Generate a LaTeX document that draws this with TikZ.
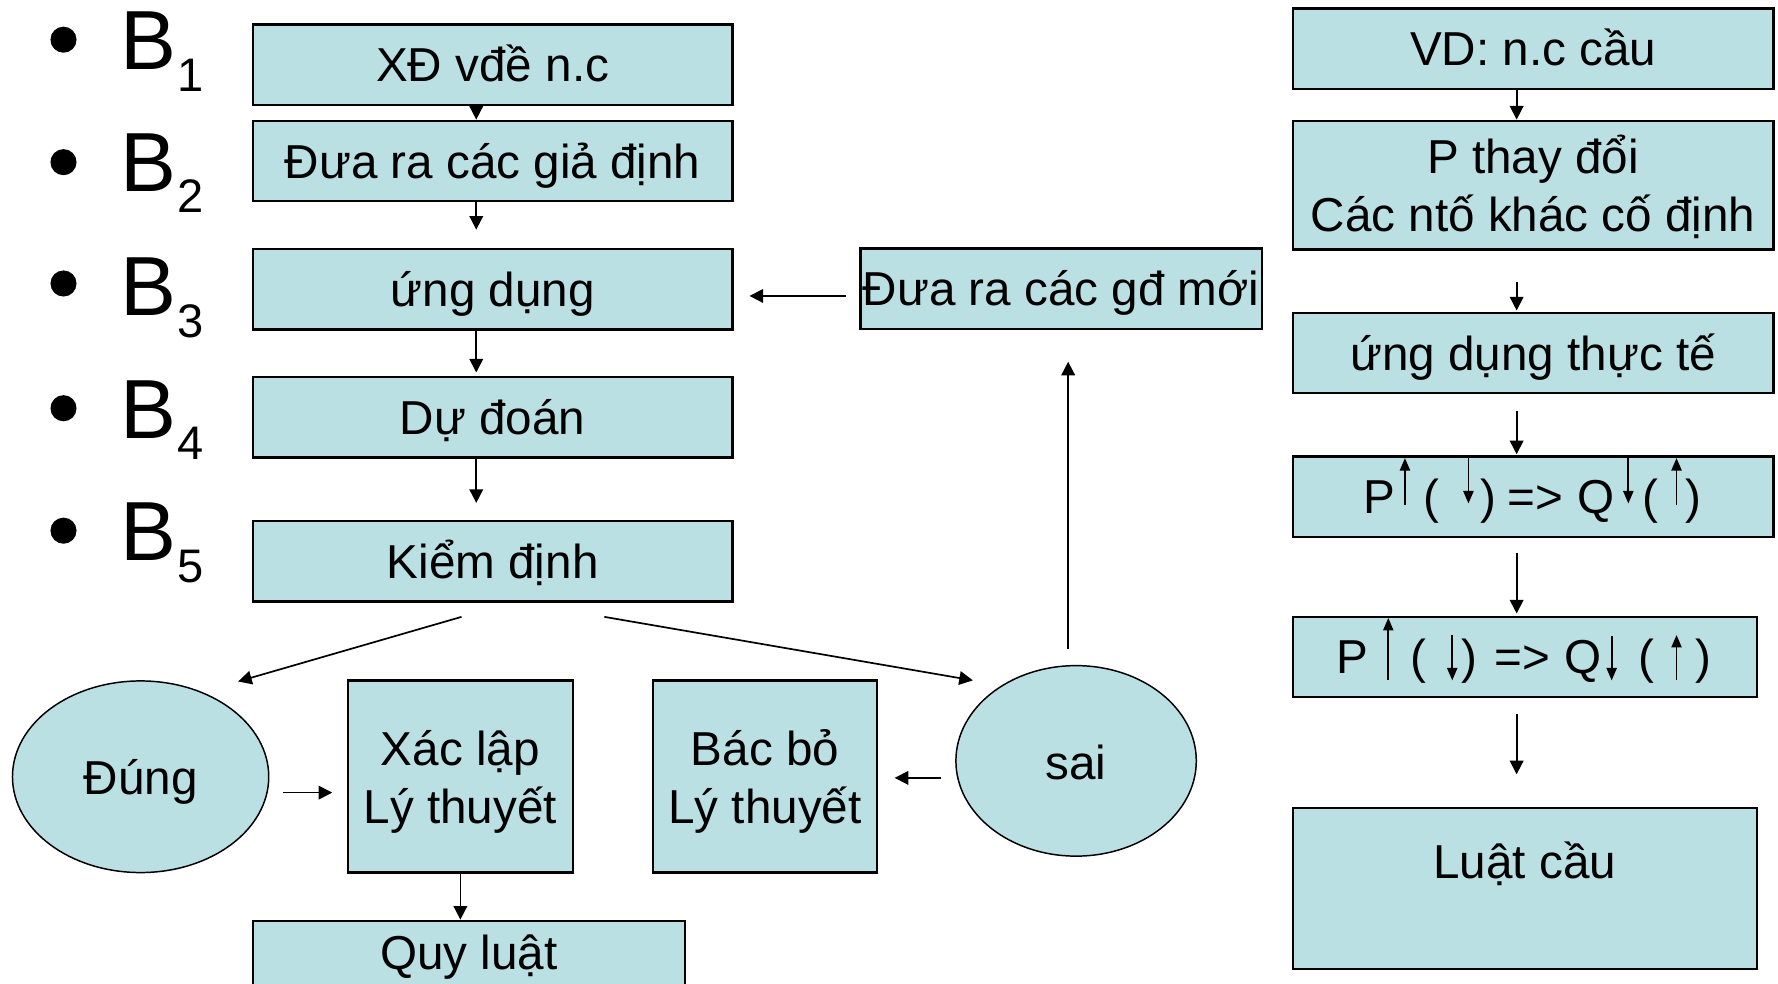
\documentclass[tikz,border=0pt]{standalone}
\usepackage{fontspec}
\setmainfont{Liberation Sans}
\usetikzlibrary{arrows.meta,shapes.geometric}
\definecolor{boxfill}{RGB}{187,224,227}
\newcommand\mytxt[2]{\smash{\raisebox{#1}{#2}}}
\newcommand\twolines[2]{\vtop{\baselineskip=51pt\lineskiplimit=-100pt\halign{\hfil##\hfil\cr#1\cr#2\cr}}}
\newcommand\Bsub[1]{{\fontsize{74}{74}\selectfont B}\kern0.5pt\raisebox{-19pt}{\fontsize{41.5}{42}\selectfont #1}}
\tikzset{
  box/.style={draw=black, line width=2pt, fill=boxfill, inner sep=0pt, font=\fontsize{42}{51}\selectfont},
  oval/.style={ellipse, draw=black, line width=1.3pt, fill=boxfill, inner sep=0pt, font=\fontsize{42}{51}\selectfont},
  arr/.style={line width=1.5pt, -{Triangle[length=12pt,width=12pt]}},
  sarr/.style={line width=1.5pt, -{Triangle[length=11pt,width=9pt]}},
  txt/.style={inner sep=0pt, anchor=base west, font=\fontsize{42}{51}\selectfont},
  blab/.style={inner sep=0pt, anchor=base west},
  bul/.style={circle, fill=black, minimum size=23pt, inner sep=0pt},
}
\begin{document}
\begin{tikzpicture}[x=1pt,y=-1pt]
\useasboundingbox (0,0) rectangle (1568,867);
\clip (0,0) rectangle (1568,867);
\fill[white] (0,0) rectangle (1568,867);

% bullets and step labels
\node[bul] (d1) at (56,35) {};
\node[bul] (d2) at (56,143) {};
\node[bul] (d3) at (56,250) {};
\node[bul] (d4) at (56,360) {};
\node[bul] (d5) at (56,468) {};
\node[blab] (l1) at (106.3,61.4) {\Bsub{1}};
\node[blab] (l2) at (106.3,168.8) {\Bsub{2}};
\node[blab] (l3) at (106.3,278.4) {\Bsub{3}};
\node[blab] (l4) at (106.3,386.4) {\Bsub{4}};
\node[blab] (l5) at (106.3,494.4) {\Bsub{5}};

% left column
\node[box, minimum width=423pt, minimum height=71pt] (b1) at (434.5,57) {\mytxt{-15pt}{XĐ vđề n.c}};
\node[box, minimum width=423pt, minimum height=71pt] (b2) at (434.5,142) {\mytxt{-15pt}{Đưa ra các giả định}};
\node[box, minimum width=423pt, minimum height=71pt] (b3) at (434.5,255) {\mytxt{-15pt}{ứng dụng}};
\node[box, minimum width=423pt, minimum height=71pt] (b4) at (434.5,368) {\mytxt{-15pt}{Dự đoán}};
\node[box, minimum width=423pt, minimum height=71pt] (b5) at (434.5,495) {\mytxt{-15pt}{Kiểm định}};
\node[box, minimum width=354pt, minimum height=71pt] (gdm) at (935.8,254.7) {\mytxt{-15pt}{Đưa ra các gđ mới}};

% bottom
\node[oval, minimum width=226pt, minimum height=169pt] (dung) at (124,685) {\mytxt{-16pt}{Đúng}};
\node[oval, minimum width=212pt, minimum height=168pt] (sai) at (949,671) {\mytxt{-16pt}{sai}};
\node[box, minimum width=198pt, minimum height=169.5pt] (xl) at (406,684.8) {\mytxt{10pt}{\twolines{Xác lập}{Lý thuyết}}};
\node[box, minimum width=198pt, minimum height=169.5pt] (bb) at (674.6,684.8) {\mytxt{10pt}{\twolines{Bác bỏ}{Lý thuyết}}};
\node[box, minimum width=381pt, minimum height=88pt] (ql) at (413.4,856) {\mytxt{1pt}{Quy luật}};

% right column
\node[box, minimum width=424pt, minimum height=71pt] (vd) at (1352,43.1) {\mytxt{-15pt}{VD: n.c cầu}};
\node[box, minimum width=424pt, minimum height=113.5pt] (pt) at (1352,163.2) {\mytxt{10pt}{\twolines{P thay đổi}{Các ntố khác cố định}}};
\node[box, minimum width=424pt, minimum height=71pt] (udt) at (1352,311.3) {\mytxt{-15pt}{ứng dụng thực tế}};
\node[box, minimum width=424pt, minimum height=71pt] (p1) at (1352,438.1) {};
\node[box, minimum width=409.5pt, minimum height=70.5pt] (p2) at (1344.75,579.3) {};
\node[box, minimum width=409.5pt, minimum height=141.7pt] (lc) at (1344.75,783.7) {\mytxt{9pt}{Luật cầu}};

% text pieces of the P boxes
\node[txt] (p1a) at (1202,452.7) {P};
\node[txt] (p1b) at (1255,452.7) {(};
\node[txt] (p1c) at (1305,452.7) {)};
\node[txt] (p1d) at (1329,452.7) {=>};
\node[txt] (p1e) at (1391,452.7) {Q};
\node[txt] (p1f) at (1448,452.7) {(};
\node[txt] (p1g) at (1486,452.7) {)};
\node[txt] (p2a) at (1178.5,593.8) {P};
\node[txt] (p2b) at (1243.5,593.8) {(};
\node[txt] (p2c) at (1289,593.8) {)};
\node[txt] (p2d) at (1317.5,593.8) {=>};
\node[txt] (p2e) at (1379.5,593.8) {Q};
\node[txt] (p2f) at (1445,593.8) {(};
\node[txt] (p2g) at (1495,593.8) {)};
\draw[sarr] (1239,445) -- (1239,404);
\draw[sarr] (1295,403) -- (1295,444);
\draw[sarr] (1436,403) -- (1436,444);
\draw[sarr] (1478.5,445) -- (1478.5,404);
\draw[sarr] (1224.3,600) -- (1224.3,545);
\draw[sarr] (1280.7,560) -- (1280.7,600);
\draw[sarr] (1421.3,561) -- (1421.3,600);
\draw[sarr] (1478.5,600) -- (1478.5,560);

% connector end points
\coordinate (gdmL) at (746,261);
\coordinate (b3R) at (661,261);
\coordinate (kdL) at (407,544);
\coordinate (dungT) at (210,601);
\coordinate (kdR) at (533,544);
\coordinate (saiT) at (858,600);
\coordinate (saiU) at (942,572);
\coordinate (gdmB) at (942,319);
\coordinate (dungR) at (250,699);
\coordinate (xlL) at (293,699);
\coordinate (saiL) at (830,686);
\coordinate (bbR) at (789,686);

% connectors left
\draw[arr] ([xshift=-14.5pt]b1.south) -- ([xshift=-14.5pt]b2.north);
\draw[arr, shorten >=16pt] ([xshift=-14.5pt]b2.south) -- ([xshift=-14.5pt]b3.north);
\draw[arr, shorten >=3pt] ([xshift=-14.5pt]b3.south) -- ([xshift=-14.5pt]b4.north);
\draw[arr, shorten >=15pt] ([xshift=-14.5pt]b4.south) -- ([xshift=-14.5pt]b5.north);
\draw[arr] (gdmL) -- (b3R);
\draw[arr] (kdL) -- (dungT);
\draw[arr] (kdR) -- (saiT);
\draw[arr] (saiU) -- (gdmB);
\draw[arr] (dungR) -- (xlL);
\draw[arr] (saiL) -- (bbR);
\draw[arr] (xl.south) -- (xl.south |- ql.north);

% connectors right
\draw[arr] ([xshift=-14.5pt]vd.south) -- ([xshift=-14.5pt]pt.north);
\draw[arr, shorten <=28pt, shorten >=1pt] ([xshift=-14.5pt]pt.south) -- ([xshift=-14.5pt]udt.north);
\draw[arr, shorten <=15pt, shorten >=1pt] ([xshift=-14.5pt]udt.south) -- ([xshift=-14.5pt]p1.north);
\draw[arr, shorten <=13pt, shorten >=2pt] ([xshift=-14.5pt]p1.south) -- ([xshift=-14.5pt]p1.south |- p2.north);
\draw[arr, shorten <=14pt, shorten >=29pt] ([xshift=-14.5pt]p1.south |- p2.south) -- ([xshift=-14.5pt]p1.south |- lc.north);
\end{tikzpicture}
\end{document}
